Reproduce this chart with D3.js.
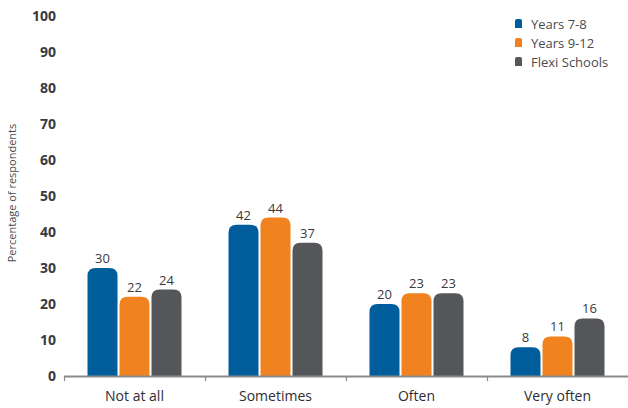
<!DOCTYPE html>
<html>
<head>
<meta charset="utf-8">
<script src="https://cdn.jsdelivr.net/npm/d3@7/dist/d3.min.js"></script>
<style>
  html, body { margin: 0; padding: 0; background: #fff; }
  svg { display: block; font-family: "Open Sans", "Noto Sans", sans-serif; }
</style>
</head>
<body>
<svg id="chart" width="628" height="408"></svg>
<script>
// Responses by frequency, percentage of respondents per student group
const categories = ["Not at all", "Sometimes", "Often", "Very often"];
const seriesNames = ["Years 7-8", "Years 9-12", "Flexi Schools"];
const years78 = [30, 42, 20, 8];
const years912 = [22, 44, 23, 11];
const flexi = [24, 37, 23, 16];
const yTicks = [0, 10, 20, 30, 40, 50, 60, 70, 80, 90, 100];
const colors = ["#005d9c", "#f0821f", "#555659"];

const seriesValues = [years78, years912, flexi];

const svg = d3.select("#chart");
const margin = { left: 64, right: 0, top: 16, bottom: 32 };
const W = 628, H = 408;

const x = d3.scaleBand().domain(categories).range([margin.left, W - margin.right]).padding(0);
const y = d3.scaleLinear().domain([0, 100]).range([H - margin.bottom, margin.top]);
const barW = 30, gap = 2;
const xs = d3.scaleBand().domain(seriesNames)
  .range([-(barW * 3 + gap * 2) / 2, (barW * 3 + gap * 2) / 2]).paddingInner(gap / (barW + gap));

// y tick labels (no axis line)
svg.append("g").selectAll("text").data(yTicks).join("text")
  .attr("x", 56).attr("y", d => y(d)).attr("dy", "0.35em")
  .attr("text-anchor", "end")
  .attr("font-size", 14).attr("font-weight", 700).attr("fill", "#3a3a3c")
  .text(d => d);

// y axis title
svg.append("text")
  .attr("transform", `translate(16,193) rotate(-90)`)
  .attr("text-anchor", "middle").attr("font-size", 11).attr("fill", "#4a4a4c")
  .text("Percentage of respondents");

// rounded-top bar path
function barPath(x0, w, yTop, yBase, r) {
  r = Math.min(r, (yBase - yTop), w / 2);
  return `M${x0},${yBase}V${yTop + r}Q${x0},${yTop} ${x0 + r},${yTop}` +
    `H${x0 + w - r}Q${x0 + w},${yTop} ${x0 + w},${yTop + r}V${yBase}Z`;
}

const groups = svg.append("g").selectAll("g").data(categories).join("g")
  .attr("transform", d => `translate(${x(d) + x.bandwidth() / 2},0)`);

seriesNames.forEach((s, si) => {
  groups.append("path")
    .attr("d", (c, ci) => barPath(xs(s), xs.bandwidth(), y(seriesValues[si][ci]), y(0), 8))
    .attr("fill", colors[si]);
  groups.append("text")
    .attr("x", xs(s) + xs.bandwidth() / 2)
    .attr("y", (c, ci) => y(seriesValues[si][ci]) - 5)
    .attr("text-anchor", "middle").attr("font-size", 13).attr("fill", "#3a3a3c")
    .text((c, ci) => seriesValues[si][ci]);
});

// x axis with category ticks at band edges
const axisG = svg.append("g");
axisG.append("line")
  .attr("x1", margin.left).attr("x2", W).attr("y1", y(0) + 0.5).attr("y2", y(0) + 0.5)
  .attr("stroke", "#8a8a8a").attr("stroke-width", 2);
const edges = categories.map(c => x(c));
axisG.selectAll("line.tick").data(edges).join("line").attr("class", "tick")
  .attr("x1", d => d + 0.5).attr("x2", d => d + 0.5)
  .attr("y1", y(0)).attr("y2", y(0) + 5)
  .attr("stroke", "#8a8a8a").attr("stroke-width", 1.2);
axisG.selectAll("text").data(categories).join("text")
  .attr("x", d => x(d) + x.bandwidth() / 2).attr("y", y(0) + 25)
  .attr("text-anchor", "middle").attr("font-size", 14).attr("fill", "#2e2e30")
  .text(d => d);

// legend
const legend = svg.append("g").attr("transform", "translate(515,24)");
seriesNames.forEach((s, i) => {
  const g = legend.append("g").attr("transform", `translate(0,${i * 19})`);
  g.append("path").attr("d", barPath(0, 7, -5, 4, 2)).attr("fill", colors[i]);
  g.append("text").attr("x", 16).attr("y", 0).attr("dy", "0.35em")
    .attr("font-size", 13).attr("fill", "#4a4a4c").text(s);
});
</script>
</body>
</html>
